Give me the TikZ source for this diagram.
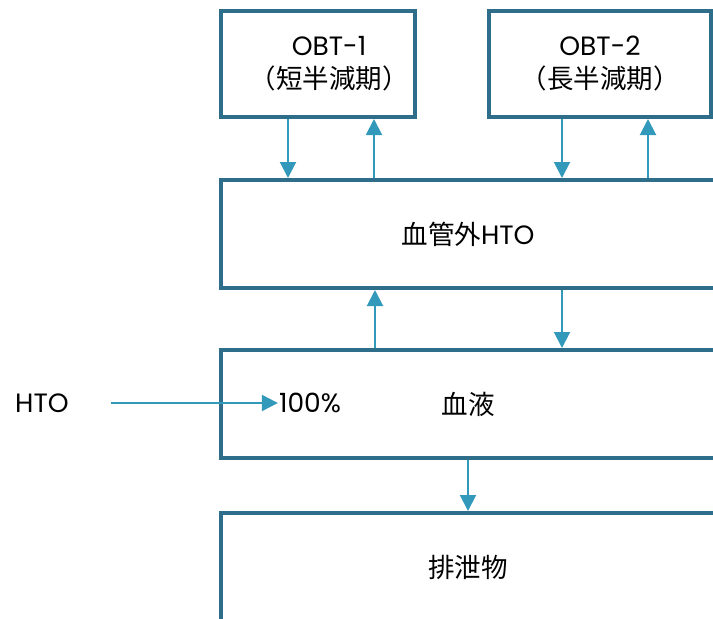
\documentclass[tikz,border=0pt]{standalone}
\usepackage{fontspec}
\setmainfont{Poppins}
\newfontfamily\cjk{Noto Sans CJK JP}
\usetikzlibrary{positioning,arrows.meta}
\definecolor{boxline}{HTML}{2E6E8A}
\definecolor{flowline}{HTML}{3399BB}

\tikzset{
    box/.style={draw=boxline, line width=4pt, fill=white, inner sep=0pt, align=center,
        font=\fontsize{26.5}{33}\selectfont},
    flow/.style={draw=flowline, line width=2pt, -{Triangle[length=16pt, width=16pt]}},
    plain/.style={inner sep=1pt, font=\fontsize{26.5}{33}\selectfont}
}

\begin{document}
\begin{tikzpicture}[x=1pt, y=-1pt]
    \useasboundingbox (0,0) rectangle (713,619);
    \clip (0,0) rectangle (713,619);

    % compartments
    \node[box, minimum width=194pt, minimum height=106pt] (obt1) at (318, 64) {\hspace*{22pt}OBT-1\\\hspace*{22pt}{\cjk （短半減期）}};
    \node[box, minimum width=222pt, minimum height=106pt] (obt2) at (600, 64) {OBT-2\\{\cjk （長半減期）}};
    \node[box, minimum width=494pt, minimum height=108pt] (ext) at (468, 234) {{\cjk 血管外}HTO};
    \node[box, minimum width=494pt, minimum height=108pt] (blood) at (468, 404) {{\cjk 血液}};
    \node[box, minimum width=494pt, minimum height=108pt] (waste) at (468, 567) {{\cjk 排泄物}};

    \node[plain] (hto) at (42, 403) {HTO};
    \node[plain] (pct) at (310, 403) {100\%};

    % exchanges
    \draw[flow] (obt1.south -| 288,0) -- (ext.north -| 288,0);
    \draw[flow] (ext.north -| 374,0) -- (obt1.south -| 374,0);
    \draw[flow] (obt2.south -| 562,0) -- (ext.north -| 562,0);
    \draw[flow] (ext.north -| 648,0) -- (obt2.south -| 648,0);
    \draw[flow] (blood.north -| 375,0) -- (ext.south -| 375,0);
    \draw[flow] (ext.south -| 562,0) -- (blood.north -| 562,0);
    \draw[flow] (blood.south -| 468,0) -- (waste.north -| 468,0);
    \draw[flow, shorten <=41pt] (hto) -- (pct);
\end{tikzpicture}
\end{document}
